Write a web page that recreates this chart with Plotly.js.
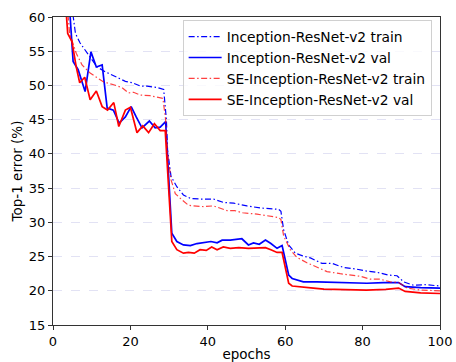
<!DOCTYPE html>
<html>
<head>
<meta charset="utf-8">
<script src="https://cdn.plot.ly/plotly-3.0.1.min.js"></script>
<style>html,body{margin:0;padding:0;background:#fff;}#chart{width:456px;height:362px;}</style>
</head>
<body>
<div id="chart"></div>
<script>
// Inception-ResNet-v2 train (dash-dot, blue)
const irTrainEpochs = [4.3,5.8,7,8.8,11.4,13.5,16.1,18.7,20.5,22.6,24.3,26.9,28.6,29.3,29.6,30.5,32,33.7,35.5,38,41.5,44.1,46.7,50.1,53.6,56.1,58.3,58.9,59.6,60.9,62.6,64.5,66.5,69.5,72.1,75.1,78.1,80.7,83.7,86.7,88.9,90.6,93.2,96,100];
const irTrain =       [64,57.6,56.2,54.7,52.7,52.0,51.3,50.6,50.4,49.9,49.9,49.7,49.4,45,40.6,36.7,35.2,34.0,33.5,33.4,33.4,32.9,32.8,32.4,32.1,32.0,31.9,31.6,28.9,26.7,25.5,25.1,24.8,24.0,24.0,23.4,23.2,22.9,22.7,22.3,22.2,21.3,20.8,20.9,20.7];

// Inception-ResNet-v2 val (solid, blue)
const irValEpochs = [4.2,5.2,6.5,8.3,9.8,11.2,12.7,14,15.6,17.1,18.7,20.2,21.5,23,24.9,26.4,27.7,29.1,30.7,32,33.7,35.5,37.2,38.9,40.8,42.4,43.7,45.8,48.8,50.5,51.8,53.3,54.9,56.3,57.9,59.2,60.9,61.8,64.7,68.2,72.5,76.8,81.1,85.4,89.3,91,95,100];
const irVal =       [62,53.5,52.3,49.1,54.9,52.7,53.0,46.7,46.4,44.5,45.4,46.9,45.4,43.8,44.8,43.8,43.9,44.7,28.4,27.2,26.7,26.6,26.9,27.0,27.2,27.0,27.4,27.4,27.6,26.7,27.0,26.8,27.4,26.9,26.2,26.6,22.3,21.8,21.3,21.3,21.2,21.2,21.1,21.2,21.2,20.6,20.45,20.4];

// SE-Inception-ResNet-v2 train (dash-dot, red)
const seTrainEpochs = [3.3,4.3,6,7.5,9.6,13.1,15.7,17.8,19.5,20.8,22.5,25.1,26.8,28.4,29.1,29.6,30.5,31.6,33.3,35,36.3,38.9,41.5,45,47,49,52.7,55.7,58.3,58.9,59.6,61.3,63,65.6,68.2,70.8,74.2,76.8,79.5,81.9,84.5,87.2,89.3,91.5,95,100];
const seTrain =       [64,57.6,54.7,53.0,51.8,50.5,50.1,49.7,48.9,49.0,48.6,48.5,48.3,48.1,45,40,36.2,34.2,33.3,32.5,32.4,32.3,32.4,31.7,31.7,31.4,31.2,30.9,30.7,30.4,28.0,26.0,24.9,24.1,23.5,22.8,22.5,22.3,22.1,21.7,21.7,21.3,21.2,20.4,20.1,20.0];

// SE-Inception-ResNet-v2 val (solid, red)
const seValEpochs = [3.0,3.8,4.9,6,6.9,8.2,9.6,11.2,12.7,14.1,15.7,17,18.7,20,21.7,23.2,24.7,26.2,27.7,29,30.7,32,33.7,35,36.5,38,39.6,41,42.4,44,45.8,48,50.5,53,54.9,56.3,57.9,59.2,60.9,61.8,64.7,67.3,70,74,77,81,86,89.3,91,95,100];
const seVal =       [64,57.6,56.4,52.7,50.4,51.2,47.9,49.2,46.9,46.4,47.5,44.0,46.4,46.8,43.1,44.1,43.1,44.4,43.4,43.4,27.2,26.0,25.5,25.6,25.5,26.0,25.9,26.4,26.0,26.4,26.2,26.3,26.2,26.2,26.3,26.0,25.6,25.6,21.1,20.7,20.5,20.4,20.25,20.2,20.1,20.1,20.2,20.4,19.9,19.7,19.6];

const seriesNames = ['Inception-ResNet-v2 train','Inception-ResNet-v2 val','SE-Inception-ResNet-v2 train','SE-Inception-ResNet-v2 val'];
const yTickVals = [15,20,25,30,35,40,45,50,55,60];
const xTickVals = [0,20,40,60,80,100];

const dashDot = '6px,2.5px,1.5px,2.5px';
const traces = [
  {x: irTrainEpochs, y: irTrain, name: seriesNames[0], mode:'lines', line:{color:'#0000ff', width:1.2, dash:dashDot}},
  {x: irValEpochs, y: irVal, name: seriesNames[1], mode:'lines', line:{color:'#0000ff', width:1.7}},
  {x: seTrainEpochs, y: seTrain, name: seriesNames[2], mode:'lines', line:{color:'rgba(255,0,0,0.75)', width:1.2, dash:dashDot}},
  {x: seValEpochs, y: seVal, name: seriesNames[3], mode:'lines', line:{color:'#ff0000', width:1.7}}
];

const fam = '"DejaVu Sans", sans-serif';
const layout = {
  width:456, height:362,
  margin:{l:53, r:16, t:17, b:37},
  paper_bgcolor:'#fff', plot_bgcolor:'#fff',
  font: {family:fam, size:13, color:'#000'},
  showlegend:true,
  legend:{x:0.335, y:0.99, xanchor:'left', yanchor:'top', bgcolor:'rgba(255,255,255,0.8)', bordercolor:'#d0d0d0', borderwidth:1, font:{family:fam, size:13.8, color:'#000'}, tracegroupgap:0, itemwidth:33},
  xaxis:{range:[0,100], tickvals:xTickVals, ticktext:xTickVals.map(String), ticks:'outside', ticklen:4, tickcolor:'#333', showline:true, linecolor:'#333', linewidth:1, mirror:true, showgrid:false, zeroline:false,
    tickfont:{family:fam, size:13, color:'#000'},
    title:{text:'epochs', font:{family:fam, size:13.5, color:'#000'}, standoff:1}},
  yaxis:{range:[15,60], tickvals:yTickVals, ticktext:yTickVals.map(String), ticks:'outside', ticklen:4, tickcolor:'#333', showline:true, linecolor:'#333', linewidth:1, mirror:true, showgrid:true, gridcolor:'#e2e2f4', griddash:'dash', gridwidth:1, zeroline:false,
    tickfont:{family:fam, size:13, color:'#000'},
    title:{text:'Top-1 error (%)', font:{family:fam, size:13.5, color:'#000'}, standoff:3}}
};
Plotly.newPlot('chart', traces, layout, {displayModeBar:false, staticPlot:true});
</script>
</body>
</html>
